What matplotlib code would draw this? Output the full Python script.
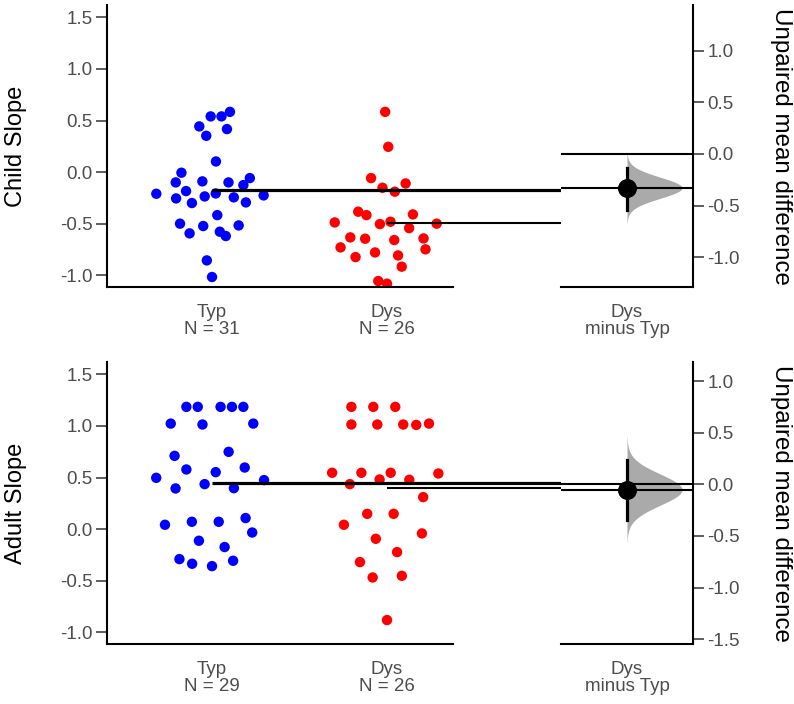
import numpy as np
import matplotlib.pyplot as plt

plt.rcParams['font.family'] = ['Liberation Sans', 'DejaVu Sans']
plt.rcParams['axes.unicode_minus'] = False

# Values
groups = ['Typ', 'Dys']
child_typ = [0.584, 0.54, 0.54, 0.443, 0.417, 0.352, 0.103, -0.006, -0.1, -0.09,
             -0.058, -0.1, -0.126, -0.184, -0.21, -0.255, -0.207, -0.236, -0.3,
             -0.245, -0.294, -0.226, -0.417, -0.5, -0.523, -0.517, -0.594, -0.578,
             -0.62, -0.856, -1.017]
child_dys = [0.584, 0.245, -0.058, -0.11, -0.152, -0.19, -0.384, -0.417, -0.41,
             -0.488, -0.504, -0.481, -0.5, -0.543, -0.633, -0.646, -0.659, -0.643,
             -0.73, -0.749, -0.779, -0.824, -0.808, -0.917, -1.056, -1.082]
adult_typ = [1.185, 1.185, 1.185, 1.185, 1.185, 1.023, 1.014, 1.023, 0.71, 0.749,
             0.578, 0.552, 0.597, 0.497, 0.475, 0.394, 0.436, 0.397, 0.042, 0.071,
             0.071, 0.107, -0.033, -0.113, -0.174, -0.291, -0.336, -0.359, -0.307]
adult_dys = [1.185, 1.185, 1.185, 1.014, 1.014, 1.014, 1.01, 1.023, 0.546, 0.546,
             0.546, 0.539, 0.478, 0.481, 0.436, 0.31, 0.148, 0.148, 0.042, -0.042,
             -0.094, -0.223, -0.32, -0.469, -0.453, -0.882]
child_ci = (-0.54, -0.14)
adult_ci = (-0.35, 0.24)

TYP_COL = '#0000ff'
DYS_COL = '#ff0000'
TICK_COL = '#333333'
LAB_COL = '#4d4d4d'


def van_der_corput(n, base=2):
    seq = []
    for i in range(1, n + 1):
        v, denom, k = 0.0, 1.0, i
        while k > 0:
            k, r = divmod(k, base)
            denom *= base
            v += r / denom
        seq.append(v)
    return np.array(seq)


def quasirandom(y, width=0.34):
    # offsets like ggbeeswarm::geom_quasirandom
    y = np.asarray(y)
    n = len(y)
    q75, q25 = np.percentile(y, [75, 25])
    bw = 0.9 * min(y.std(ddof=1), (q75 - q25) / 1.34) * n ** -0.2
    grid = np.linspace(y.min() - 3 * bw, y.max() + 3 * bw, 512)
    dens = lambda v: np.exp(-0.5 * ((v[:, None] - y[None, :]) / bw) ** 2).sum(1)
    scale = dens(y) / dens(grid).max()
    rank = np.argsort(np.argsort(y, kind='stable'), kind='stable')
    off = van_der_corput(n)[rank]
    return (off - 0.5) * 2 * width * scale


def draw_row(top_px, typ, dys, ci, ylabel, right_ylim, right_ticks):
    W, H = 794, 704
    bottom = 1 - (top_px + 282) / H
    h = 282 / H
    axl = fig.add_axes([107 / W, bottom, 454 / W, h])
    axr = fig.add_axes([561 / W, bottom, 132 / W, h])

    typ = np.asarray(typ)
    dys = np.asarray(dys)
    m_typ, m_dys = typ.mean(), dys.mean()
    diff = m_dys - m_typ

    # left: raw data
    for pos, vals, col in [(1, typ, TYP_COL), (2, dys, DYS_COL)]:
        axl.scatter(pos + quasirandom(vals), vals, s=56, color=col,
                    edgecolors='none', zorder=2)
    axl.plot([1, 2.994], [m_typ, m_typ], color='black', lw=2.3,
             solid_capstyle='butt', zorder=3)
    axl.plot([2, 2.994], [m_dys, m_dys], color='black', lw=1.5,
             solid_capstyle='butt', zorder=3)
    axl.set_xlim(0.4, 2.994)
    axl.set_ylim(-1.114, 1.62)
    axl.set_yticks(np.arange(-1.0, 1.51, 0.5))
    axl.set_yticklabels([f'{v:.1f}' for v in np.arange(-1.0, 1.51, 0.5)])
    axl.set_xticks([1, 2])
    axl.set_xticklabels([f'{g}\nN = {len(v)}' for g, v in zip(groups, [typ, dys])],
                        linespacing=1.05)
    axl.spines[['top', 'right']].set_visible(False)
    axl.spines['bottom'].set_bounds(0.4, 2.377)

    # right: mean difference
    sd = (ci[1] - ci[0]) / (2 * 1.96)
    yy = np.linspace(diff - 3.4 * sd, diff + 3.4 * sd, 200)
    dd = np.exp(-0.5 * ((yy - diff) / sd) ** 2)
    axr.fill_betweenx(yy, 0, 0.417 * dd, color='#aaaaaa', lw=0, zorder=1)
    axr.axhline(0, color='black', lw=1.5, zorder=2)
    axr.axhline(diff, color='black', lw=1.5, zorder=2)
    axr.plot([0, 0], ci, color='black', lw=2.3, zorder=3)
    axr.scatter([0], [diff], s=160, color='black', zorder=4)
    axr.set_xlim(-0.5, 0.5)
    axr.set_ylim(*right_ylim)
    axr.set_yticks(right_ticks)
    axr.set_yticklabels([f'{v:.1f}' for v in right_ticks])
    axr.yaxis.tick_right()
    axr.set_xticks([0])
    axr.set_xticklabels([f'{groups[1]}\nminus {groups[0]}'], linespacing=1.05)
    axr.spines[['top', 'left']].set_visible(False)
    axr.patch.set_alpha(0)

    for ax in (axl, axr):
        for sp in ax.spines.values():
            sp.set_linewidth(1.5)
        ax.tick_params(axis='y', length=8, width=1.1, color=TICK_COL,
                       labelcolor=LAB_COL, labelsize=13.5, pad=2.5)
        ax.tick_params(axis='x', length=0, labelcolor=LAB_COL, labelsize=13.5, pad=12)

    cy = 1 - (top_px + 141) / H
    fig.text(16 / W, cy, ylabel, rotation=90, ha='center', va='center', fontsize=17)
    fig.text(781 / W, cy, 'Unpaired mean difference', rotation=270,
             ha='center', va='center', fontsize=17.4)


fig = plt.figure(figsize=(7.94, 7.04), dpi=100)
draw_row(5, child_typ, child_dys, child_ci, 'Child Slope',
         (-1.289, 1.444), [-1.0, -0.5, 0.0, 0.5, 1.0])
draw_row(362, adult_typ, adult_dys, adult_ci, 'Adult Slope',
         (-1.547, 1.185), [-1.5, -1.0, -0.5, 0.0, 0.5, 1.0])

fig.savefig('out.png', dpi=100, facecolor='white')
